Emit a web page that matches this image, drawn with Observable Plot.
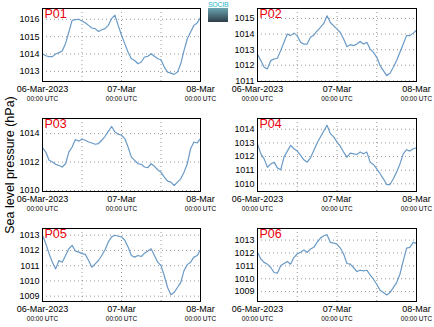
<!DOCTYPE html>
<html>
<head>
<meta charset="utf-8">
<script src="https://cdn.jsdelivr.net/npm/d3@7"></script>
<script src="https://cdn.jsdelivr.net/npm/@observablehq/plot@0.6"></script>
<style>
  body { margin: 0; background: #fff; font-family: "Liberation Sans", Arial, sans-serif; }
  #chart { position: relative; width: 434px; height: 327px; overflow: hidden; }
  .panel { position: absolute; }
  #ylab { position: absolute; left: 10px; top: 165px; transform: translate(-50%, -50%) rotate(-90deg); font-size: 12.5px; white-space: nowrap; color: #000; }
  #logo { position: absolute; left: 208px; top: 1px; width: 20px; text-align: center; }
  #logo .t { font-size: 7px; color: #29b6c9; line-height: 7px; letter-spacing: -0.3px; }
  #logo .b { width: 20px; height: 14px; background: linear-gradient(#6aa5b0, #2d3e4a); }
</style>
</head>
<body>
<div id="chart">
  <div id="ylab">Sea level pressure (hPa)</div>
  <div id="logo"><div class="t">SOCIB</div><div class="b"></div></div>
</div>
<script>
// Hourly values, 06-Mar-2023 00:00 UTC to 08-Mar-2023 00:00 UTC
const p01 = [1014.0,1013.9,1013.85,1013.85,1014.0,1014.08,1014.17,1014.6,1015.27,1015.94,1015.98,1016.0,1015.9,1015.8,1015.65,1015.5,1015.46,1015.3,1015.4,1015.46,1015.65,1016.04,1016.23,1015.65,1015.08,1014.6,1014.1,1013.73,1013.63,1013.44,1013.54,1013.83,1013.87,1014.02,1013.87,1013.73,1013.67,1013.25,1012.96,1012.9,1012.83,1012.96,1013.44,1014.21,1014.88,1015.27,1015.65,1015.79,1016.1];
const p02 = [1012.7,1012.3,1011.87,1011.77,1012.3,1012.4,1012.45,1012.94,1013.47,1014.0,1013.9,1014.06,1013.9,1013.47,1013.36,1013.36,1013.79,1013.94,1014.2,1014.43,1014.68,1015.17,1014.74,1014.53,1014.32,1014.1,1013.68,1013.19,1013.32,1013.26,1013.36,1013.53,1013.36,1013.47,1013.04,1012.83,1012.51,1011.98,1011.66,1011.34,1011.49,1011.87,1012.3,1012.83,1013.36,1013.9,1013.9,1014.06,1014.25];
const p03 = [1013.01,1012.7,1012.12,1012.0,1011.84,1011.76,1011.65,1011.88,1012.7,1013.06,1013.58,1013.46,1013.6,1013.53,1013.41,1013.34,1013.25,1013.3,1013.53,1013.81,1014.16,1014.5,1014.12,1013.95,1013.88,1013.65,1013.06,1012.35,1012.12,1011.88,1011.84,1011.65,1011.6,1011.88,1011.7,1011.46,1011.29,1010.94,1010.66,1010.59,1010.35,1010.59,1010.82,1011.29,1011.88,1012.94,1013.41,1013.34,1013.65];
const p04 = [1012.93,1012.2,1011.83,1011.22,1011.46,1011.59,1011.17,1011.03,1011.96,1012.4,1012.82,1012.57,1012.4,1012.08,1011.76,1011.59,1011.91,1012.45,1013.0,1013.44,1013.88,1014.3,1013.68,1013.44,1013.07,1012.75,1012.33,1011.96,1012.25,1012.2,1012.15,1012.33,1012.2,1012.33,1011.59,1011.42,1011.1,1010.74,1010.37,1009.95,1009.95,1010.37,1010.86,1011.46,1012.2,1012.5,1012.4,1012.57,1012.65];
const p05 = [1013.0,1012.45,1011.79,1011.23,1010.79,1011.34,1011.23,1011.67,1012.11,1012.33,1011.96,1011.89,1011.79,1011.74,1011.34,1010.9,1011.12,1011.34,1011.67,1012.05,1012.56,1012.89,1013.0,1012.93,1012.89,1012.67,1012.23,1011.67,1011.56,1011.67,1011.6,1011.82,1011.96,1012.11,1011.67,1011.23,1011.0,1010.34,1009.57,1009.09,1009.25,1009.57,1009.9,1010.68,1011.07,1011.23,1011.56,1011.67,1012.05];
const p06 = [1012.05,1011.53,1011.27,1011.13,1010.87,1010.48,1010.43,1011.0,1011.18,1011.34,1011.13,1011.66,1011.92,1012.05,1012.23,1012.05,1012.31,1012.44,1012.82,1013.16,1013.34,1013.42,1012.82,1012.77,1012.69,1012.38,1011.92,1011.18,1011.13,1010.87,1010.56,1010.66,1010.61,1010.66,1010.3,1009.96,1009.57,1009.1,1008.92,1008.74,1008.92,1009.31,1009.7,1010.35,1011.39,1012.38,1012.44,1012.82,1012.74];

const stations = ["P01","P02","P03","P04","P05","P06"];
const series = [p01,p02,p03,p04,p05,p06];
const yDomains = [[1012.42,1016.62],[1010.96,1015.64],[1009.93,1015.06],[1009.44,1014.79],[1008.65,1013.44],[1008.23,1013.9]];
const yTicks = [[1013,1014,1015,1016],[1011,1012,1013,1014,1015],[1010,1012,1014],[1010,1011,1012,1013,1014],[1009,1010,1011,1012,1013],[1009,1010,1011,1012,1013]];
const xTickLabels = ["06-Mar-2023","07-Mar","08-Mar"];
const xTickSub = "00:00 UTC";

const start = Date.UTC(2023,2,6,0,0);
const H = 3600e3;
const xDomain = [new Date(start), new Date(start + 48*H)];
const gridX = [0,12,24,36,48].map(h => new Date(start + h*H));
const labelX = [0,24,48].map((h,i) => ({date: new Date(start + h*H), label: xTickLabels[i], sub: xTickSub}));

const layout = [
  {left:0,   top:0,   w:217, h:110, ml:42, mr:17, mt:8, mb:29},
  {left:217, top:0,   w:217, h:110, ml:40, mr:18, mt:8, mb:29},
  {left:0,   top:110, w:217, h:110, ml:42, mr:17, mt:8, mb:29},
  {left:217, top:110, w:217, h:110, ml:40, mr:18, mt:8, mb:29},
  {left:0,   top:220, w:217, h:107, ml:42, mr:17, mt:8, mb:26},
  {left:217, top:220, w:217, h:107, ml:40, mr:18, mt:8, mb:26}
];

const chart = document.getElementById("chart");
stations.forEach((name, i) => {
  const L = layout[i];
  const data = series[i].map((v, k) => ({date: new Date(start + k*H), value: v}));
  const svg = Plot.plot({
    width: L.w, height: L.h,
    marginLeft: L.ml, marginRight: L.mr, marginTop: L.mt, marginBottom: L.mb,
    style: {fontFamily: "'Liberation Sans', Arial, sans-serif", fontSize: "9px", color: "#000", background: "transparent", overflow: "visible"},
    x: {type: "utc", domain: xDomain, axis: null},
    y: {domain: yDomains[i], axis: null},
    marks: [
      Plot.ruleX(gridX, {stroke: "#999", strokeDasharray: "1,3", strokeWidth: 1}),
      Plot.ruleY(yTicks[i], {stroke: "#999", strokeDasharray: "1,3", strokeWidth: 1}),
      Plot.axisY({ticks: yTicks[i], tickSize: 0, tickPadding: 3, fontSize: 9, label: null, tickFormat: d => String(d)}),
      Plot.line(data, {x: "date", y: "value", stroke: "#6a9ac6", strokeWidth: 1.2}),
      Plot.frame({stroke: "#000", strokeWidth: 1}),
      Plot.text(labelX, {x: "date", text: "label", frameAnchor: "bottom", dy: 8, fontSize: 9, lineAnchor: "middle", fill: "#000"}),
      Plot.text(labelX, {x: "date", text: "sub", frameAnchor: "bottom", dy: 17, fontSize: 6.5, lineAnchor: "middle", fill: "#000"}),
      Plot.text([name], {frameAnchor: "top-left", dx: 2, dy: 1, fontSize: 12.5, fill: "#e8000b", lineAnchor: "top", text: d => d})
    ]
  });
  svg.classList.add("panel");
  svg.style.left = L.left + "px";
  svg.style.top = L.top + "px";
  chart.appendChild(svg);
});
</script>
</body>
</html>
